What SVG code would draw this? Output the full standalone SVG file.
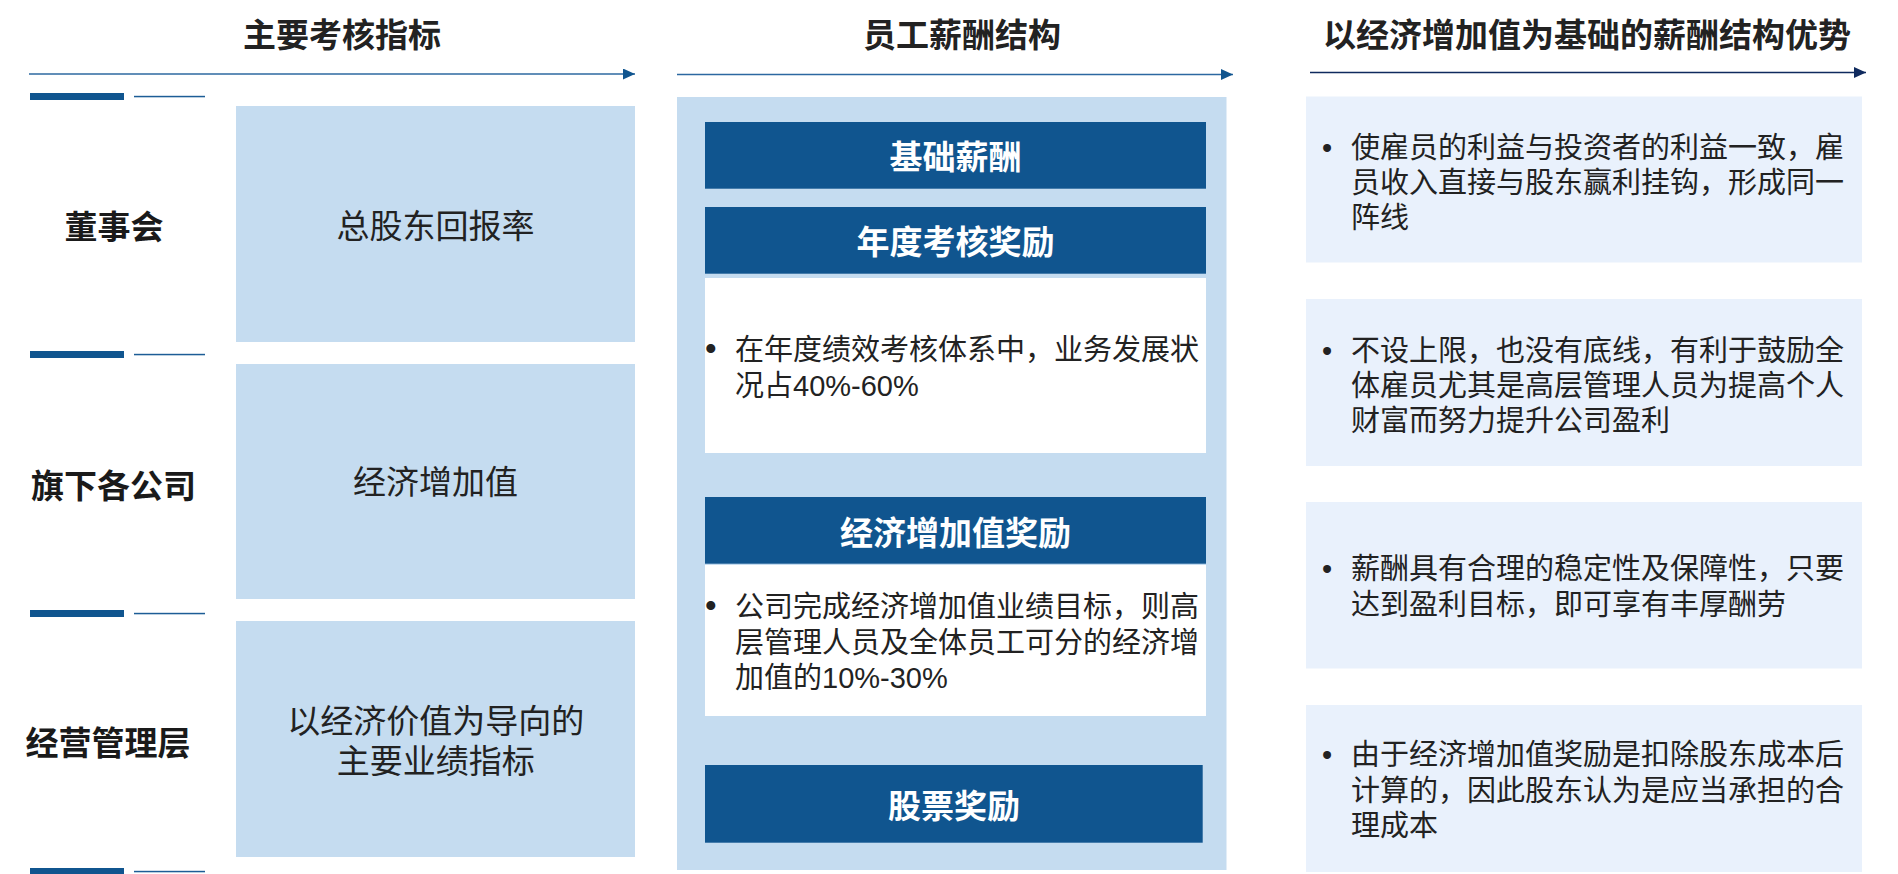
<svg xmlns="http://www.w3.org/2000/svg" width="1898" height="874" viewBox="0 0 1898 874">
<style>
  text { font-family: "Liberation Sans", "Noto Sans CJK SC", sans-serif; fill: #1f1f1f; }
  .title { font-size: 33px; font-weight: 700; text-anchor: middle; fill: #222; }
  .label { font-size: 33px; font-weight: 700; text-anchor: middle; fill: #1a1a1a; }
  .boxtxt { font-size: 33px; text-anchor: middle; fill: #222; }
  .hdr { font-size: 33px; font-weight: 700; text-anchor: middle; fill: #ffffff; }
  .bul { font-size: 29px; fill: #222; }
  .dot { font-size: 33px; fill: #222; }
  .light { fill: #c5dcf0; }
  .pale { fill: #e9f1fc; }
  .dark { fill: #10558f; }
  .white { fill: #ffffff; }
  .bar { fill: #10558f; }
  .thin { fill: #1d5d96; }
  .arrow1 { stroke: #2c68a1; stroke-width: 1.5; fill: none; }
  .arrow3 { stroke: #0f2a5e; stroke-width: 1.5; fill: none; }
</style>
<defs>
  <marker id="ah1" markerUnits="userSpaceOnUse" markerWidth="12" markerHeight="12" refX="12" refY="5.5" orient="auto">
    <path d="M0,0 L12,5.5 L0,11 z" fill="#10558f"/>
  </marker>
  <marker id="ah3" markerUnits="userSpaceOnUse" markerWidth="12" markerHeight="12" refX="12" refY="5.5" orient="auto">
    <path d="M0,0 L12,5.5 L0,11 z" fill="#0f2a5e"/>
  </marker>
</defs>

<g id="headers">
  <text class="title" x="342" y="47">主要考核指标</text>
  <text class="title" x="962" y="47">员工薪酬结构</text>
  <text class="title" x="1587" y="47">以经济增加值为基础的薪酬结构优势</text>
</g>

<g id="connectors">
  <line class="arrow1" x1="29" y1="74" x2="635" y2="74" marker-end="url(#ah1)"/>
  <line class="arrow1" x1="677" y1="74.5" x2="1233" y2="74.5" marker-end="url(#ah1)"/>
  <line class="arrow3" x1="1310" y1="72.5" x2="1866" y2="72.5" marker-end="url(#ah3)"/>
</g>

<g id="separators">
  <rect class="bar" x="30" y="93" width="94" height="7"/>
  <rect class="thin" x="134" y="95.8" width="71" height="1.5"/>
  <rect class="bar" x="30" y="351" width="94" height="7"/>
  <rect class="thin" x="134" y="353.8" width="71" height="1.5"/>
  <rect class="bar" x="30" y="610" width="94" height="7"/>
  <rect class="thin" x="134" y="612.8" width="71" height="1.5"/>
  <rect class="bar" x="30" y="868" width="94" height="7"/>
  <rect class="thin" x="134" y="870.8" width="71" height="1.5"/>
</g>

<g id="label-board">
  <text class="label" x="114" y="238.5">董事会</text>
</g>
<g id="label-subsidiaries">
  <text class="label" x="113.6" y="497.5">旗下各公司</text>
</g>
<g id="label-management">
  <text class="label" x="108" y="755">经营管理层</text>
</g>

<g id="kpi-tsr">
  <rect class="light" x="236" y="106" width="399" height="236"/>
  <text class="boxtxt" x="435.6" y="237.5">总股东回报率</text>
</g>
<g id="kpi-eva">
  <rect class="light" x="236" y="364" width="399" height="235"/>
  <text class="boxtxt" x="435.6" y="493.5">经济增加值</text>
</g>
<g id="kpi-value">
  <rect class="light" x="236" y="621" width="399" height="236"/>
  <text class="boxtxt" x="435.8" y="732.5">以经济价值为导向的</text>
  <text class="boxtxt" x="435.8" y="772.5">主要业绩指标</text>
</g>

<g id="pay-structure">
  <rect class="light" x="677" y="97" width="549.5" height="773"/>
</g>
<g id="pay-base">
  <rect class="dark" x="705" y="122" width="501" height="66.7"/>
  <text class="hdr" x="955.6" y="169">基础薪酬</text>
</g>
<g id="pay-annual">
  <rect class="dark" x="705" y="207" width="501" height="66.7"/>
  <text class="hdr" x="955.6" y="253.5">年度考核奖励</text>
  <rect class="white" x="705" y="278" width="501" height="175"/>
  <text class="dot" x="705" y="360">•</text>
  <text class="bul" x="735" y="360">在年度绩效考核体系中，业务发展状</text>
  <text class="bul" x="735" y="396">况占40%-60%</text>
</g>
<g id="pay-eva">
  <rect class="dark" x="705" y="497" width="501" height="66.7"/>
  <text class="hdr" x="955.6" y="544.5">经济增加值奖励</text>
  <rect class="white" x="705" y="565" width="501" height="151"/>
  <text class="dot" x="705" y="616.5">•</text>
  <text class="bul" x="735" y="616.5">公司完成经济增加值业绩目标，则高</text>
  <text class="bul" x="735" y="652.5">层管理人员及全体员工可分的经济增</text>
  <text class="bul" x="735" y="688">加值的10%-30%</text>
</g>
<g id="pay-stock">
  <rect class="dark" x="705" y="765" width="497.7" height="77.7"/>
  <text class="hdr" x="954" y="817.5">股票奖励</text>
</g>

<g id="adv-1">
  <rect class="pale" x="1306" y="96.5" width="556" height="166"/>
  <text class="bul" x="1322" y="157.7">•</text>
  <text class="bul" x="1351" y="157.7">使雇员的利益与投资者的利益一致，雇</text>
  <text class="bul" x="1351" y="192.7">员收入直接与股东赢利挂钩，形成同一</text>
  <text class="bul" x="1351" y="227.7">阵线</text>
</g>
<g id="adv-2">
  <rect class="pale" x="1306" y="299" width="556" height="167"/>
  <text class="bul" x="1322" y="361">•</text>
  <text class="bul" x="1351" y="361">不设上限，也没有底线，有利于鼓励全</text>
  <text class="bul" x="1351" y="396">体雇员尤其是高层管理人员为提高个人</text>
  <text class="bul" x="1351" y="431">财富而努力提升公司盈利</text>
</g>
<g id="adv-3">
  <rect class="pale" x="1306" y="502" width="556" height="166.5"/>
  <text class="bul" x="1322" y="579">•</text>
  <text class="bul" x="1351" y="579">薪酬具有合理的稳定性及保障性，只要</text>
  <text class="bul" x="1351" y="614.5">达到盈利目标，即可享有丰厚酬劳</text>
</g>
<g id="adv-4">
  <rect class="pale" x="1306" y="705" width="556" height="167"/>
  <text class="bul" x="1322" y="765">•</text>
  <text class="bul" x="1351" y="765">由于经济增加值奖励是扣除股东成本后</text>
  <text class="bul" x="1351" y="800.5">计算的，因此股东认为是应当承担的合</text>
  <text class="bul" x="1351" y="836">理成本</text>
</g>
</svg>
